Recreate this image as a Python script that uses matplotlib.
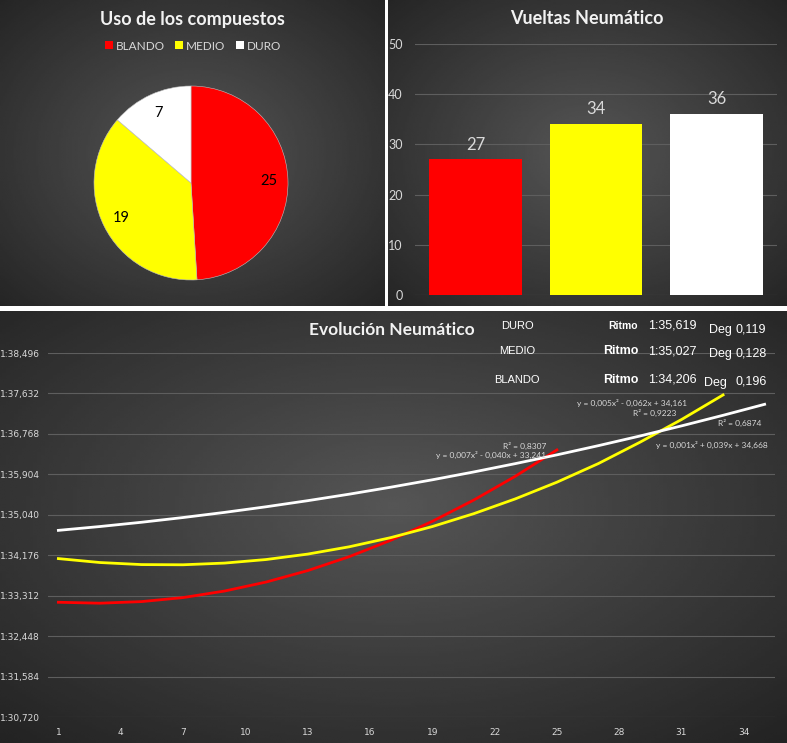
"""
Resumen de neumaticos: uso, vueltas y evolucion del ritmo
"""
import numpy as np
import matplotlib
matplotlib.use("Agg")
import matplotlib.pyplot as plt
from matplotlib.patches import Patch

#==========================================================
# data
#==========================================================
compuestos = ["BLANDO", "MEDIO", "DURO"]
colores = ["#ff0000", "#ffff00", "#ffffff"]
uso = [25, 19, 7]
vueltas = [27, 34, 36]

# lap times in seconds at odd laps
laps_blando = [1, 3, 5, 7, 9, 11, 13, 15, 17, 19, 21, 23, 25]
t_blando = [93.171, 93.151, 93.185, 93.271, 93.411, 93.603, 93.847,
            94.145, 94.495, 94.899, 95.355, 95.863, 96.425]
laps_medio = [1, 3, 5, 7, 9, 11, 13, 15, 17, 19, 21, 23, 25, 27, 29, 31, 33]
t_medio = [94.104, 94.020, 93.976, 93.972, 94.008, 94.084, 94.200, 94.356,
           94.552, 94.788, 95.064, 95.380, 95.736, 96.135, 96.590, 97.075, 97.600]
laps_duro = [1, 3, 5, 7, 9, 11, 13, 15, 17, 19, 21, 23, 25, 27, 29, 31, 33, 35]
t_duro = [94.707, 94.789, 94.880, 94.981, 95.091, 95.211, 95.341, 95.480,
          95.629, 95.787, 95.955, 96.133, 96.320, 96.517, 96.723, 96.939,
          97.165, 97.400]

filas = ["DURO", "MEDIO", "BLANDO"]
ritmo = ["1:35,619", "1:35,027", "1:34,206"]
deg = ["0,119", "0,128", "0,196"]

FONT = "Lato"
TXT = "#d9d9d9"
W, H = 787, 743

fig = plt.figure(figsize=(W / 100, H / 100), dpi=100, facecolor="white")


def rect(x0, y0, x1, y1):
    # pixel box (top-left origin) -> figure fraction
    return [x0 / W, 1 - y1 / H, (x1 - x0) / W, (y1 - y0) / H]


def fondo(box, cx=0.5, cy=0.5):
    ax = fig.add_axes(rect(*box), zorder=0)
    xx, yy = np.meshgrid(np.linspace(0, 1, 200), np.linspace(0, 1, 200))
    d = np.sqrt(((xx - cx) / 0.75) ** 2 + ((yy - cy) / 0.75) ** 2)
    g = 0.335 - 0.2 * np.clip(d, 0, 1)
    ax.imshow(g, cmap="gray", vmin=0, vmax=1, aspect="auto",
              extent=[0, 1, 0, 1], interpolation="bilinear")
    ax.axis("off")


fondo((0, 0, 385, 306))
fondo((388, 0, 787, 306))
fondo((0, 311, 787, 743), cx=0.5, cy=0.45)

#==========================================================
# pie
#==========================================================
fig.text(192 / W, 1 - 19 / H, "Uso de los compuestos", ha="center", va="center",
         fontsize=13, fontweight="bold", color="#f2f2f2", family=FONT)
axp = fig.add_axes(rect(94, 86, 288, 280), zorder=2)
axp.pie(uso, colors=colores, startangle=90, counterclock=False,
        autopct=lambda p: "%d" % round(p * sum(uso) / 100), pctdistance=0.8,
        wedgeprops=dict(edgecolor="#bfbfbf", linewidth=0.4),
        textprops=dict(fontsize=10.5, color="black", family=FONT))
axp.set_xlim(-1, 1)
axp.set_ylim(-1, 1)
axp.set_aspect("equal")
handles = [Patch(facecolor=c, edgecolor="none") for c in colores]
fig.legend(handles, compuestos, loc="center", bbox_to_anchor=(193 / W, 1 - 46 / H),
           ncol=3, frameon=False, handlelength=0.65, handleheight=0.65,
           handletextpad=0.25, columnspacing=0.9,
           prop=dict(family=FONT, size=8.5), labelcolor=TXT)

#==========================================================
# bars
#==========================================================
fig.text(587 / W, 1 - 19 / H, "Vueltas Neumático", ha="center", va="center",
         fontsize=13, fontweight="bold", color="#f2f2f2", family=FONT)
axb = fig.add_axes(rect(415, 44, 777, 295), zorder=2)
axb.patch.set_alpha(0)
bars = axb.bar(range(3), vueltas, width=0.77, color=colores, zorder=3)
axb.bar_label(bars, padding=5, color=TXT, fontsize=12, family=FONT)
axb.set_ylim(0, 50)
axb.set_xlim(-0.5, 2.5)
axb.set_yticks(range(0, 51, 10))
axb.set_xticks([])
axb.grid(axis="y", color="#5e5e5e", linewidth=0.8, zorder=0)
for s in axb.spines.values():
    s.set_visible(False)
axb.tick_params(axis="y", length=0, colors=TXT, labelsize=9, pad=9)
for lb in axb.get_yticklabels():
    lb.set_family(FONT)

#==========================================================
# evolution
#==========================================================
axl = fig.add_axes(rect(48, 353, 775, 717), zorder=2)
axl.patch.set_alpha(0)
axl.plot(laps_blando, t_blando, color="#ff0000", lw=2)
axl.plot(laps_medio, t_medio, color="#ffff00", lw=2)
axl.plot(laps_duro, t_duro, color="#ffffff", lw=2)
axl.set_xlim(0.5, 35.5)
axl.set_ylim(90.72, 98.496)
yt = np.linspace(90.72, 98.496, 10)
axl.set_yticks(yt)


def fmt(v):
    ms = int(round(v * 1000))
    return "%d:%02d,%03d" % (ms // 60000, (ms // 1000) % 60, ms % 1000)


axl.set_yticklabels([fmt(v) for v in yt])
axl.set_xticks(range(1, 36, 3))
axl.grid(axis="y", color="#5e5e5e", linewidth=0.8, zorder=0)
for s in axl.spines.values():
    s.set_visible(False)
axl.tick_params(length=0, colors=TXT, labelsize=6.5)
axl.tick_params(axis="y", pad=6)
axl.tick_params(axis="x", pad=8)

fig.text(392 / W, 1 - 330 / H, "Evolución Neumático", ha="center", va="center",
         fontsize=12.5, fontweight="bold", color="#f2f2f2", family=FONT)

narrow = ["Liberation Sans Narrow", "Liberation Sans"]
pos_y = [(326, 330, 7.5), (351, 354, 9), (380, 383, 9)]
for i, (yy, yd, fs) in enumerate(pos_y):
    fig.text(517 / W, 1 - yy / H, filas[i], ha="center", va="center",
             fontsize=8, color="white", family=narrow)
    fig.text(638 / W, 1 - yy / H, "Ritmo", ha="right", va="center",
             fontsize=fs, fontweight="bold", color="white", family="Liberation Sans")
    fig.text(648 / W, 1 - yy / H, ritmo[i], ha="left", va="center",
             fontsize=9, color="white", family=narrow)
    fig.text((709 if i < 2 else 704) / W, 1 - yd / H, "Deg", ha="left", va="center",
             fontsize=9, color="white", family=narrow)
    fig.text((736 if i < 2 else 735) / W, 1 - (yd - 1) / H, deg[i],
             ha="left", va="center", fontsize=9, color="white", family=narrow)

eq = dict(fontsize=6, color=TXT, family=FONT)
fig.text(632 / W, 1 - 403 / H, "y = 0,005x² - 0,062x + 34,161", ha="center", va="center", **eq)
fig.text(655 / W, 1 - 413 / H, "R² = 0,9223", ha="center", va="center", **eq)
fig.text(740 / W, 1 - 423 / H, "R² = 0,6874", ha="center", va="center", **eq)
fig.text(712 / W, 1 - 445 / H, "y = 0,001x² + 0,039x + 34,668", ha="center", va="center", **eq)
fig.text(525 / W, 1 - 446 / H, "R² = 0,8307", ha="center", va="center", **eq)
fig.text(491 / W, 1 - 455 / H, "y = 0,007x² - 0,040x + 33,241", ha="center", va="center", **eq)

fig.savefig("out.png", dpi=100, facecolor="white")
